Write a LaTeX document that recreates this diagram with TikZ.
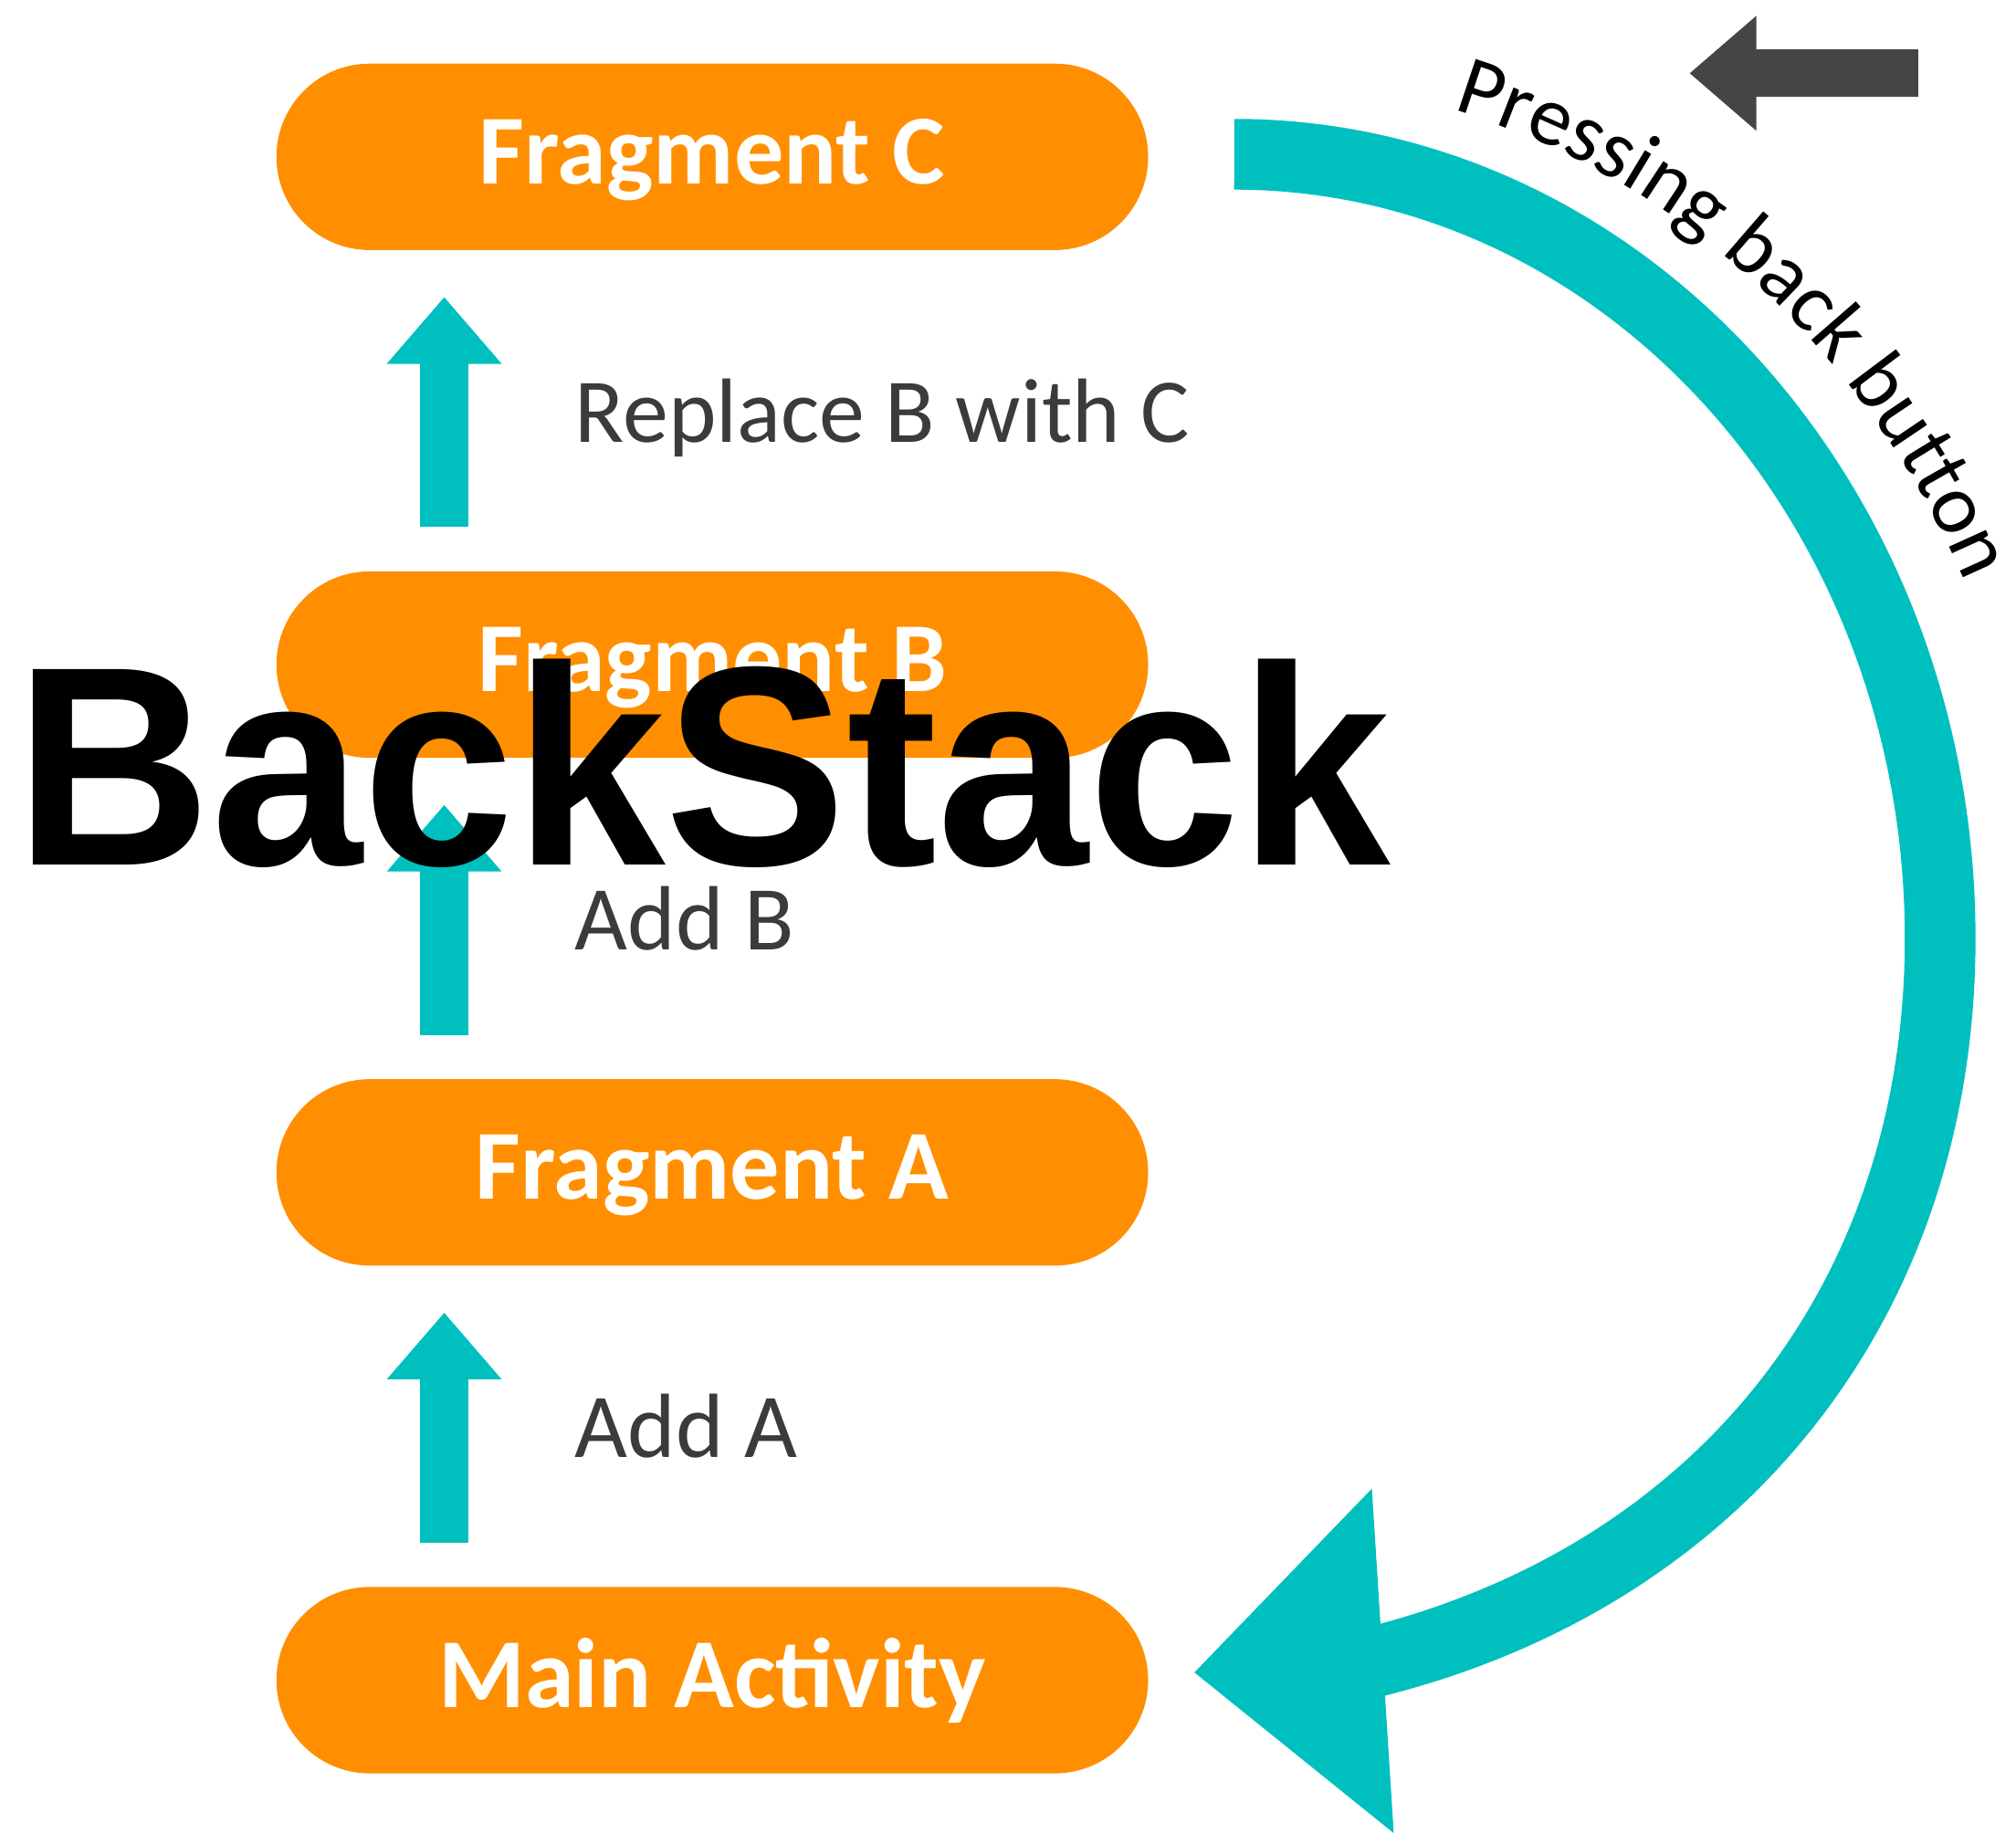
\documentclass[tikz,border=0pt]{standalone}
\usepackage{fontspec}
\usetikzlibrary{shapes.misc,arrows.meta,decorations.text}
\newfontfamily\calibri{Carlito}
\newfontfamily\helv{Liberation Sans}
\definecolor{pillorange}{HTML}{FF8F00}
\definecolor{tealc}{HTML}{00C0BF}
\definecolor{labelgray}{HTML}{3B3B3B}
\definecolor{arrowgray}{HTML}{454545}
\newcommand{\pressfont}{\calibri\fontsize{66}{79}\selectfont}
\begin{document}
\begin{tikzpicture}[x=1pt,y=-1pt,
  pill/.style={rounded rectangle, fill=pillorange, minimum width=678pt,
    minimum height=145pt, inner sep=0pt, text=white,
    font=\calibri\bfseries\fontsize{77}{90}\selectfont,
    text height=50pt, text depth=8pt},
  lbl/.style={anchor=base west, inner sep=0pt, text=labelgray,
    font=\calibri\fontsize{71}{85}\selectfont},
  blockarrow/.style={line width=37pt, -{Triangle[length=52pt,width=86pt]}},
]
\useasboundingbox (0,0) rectangle (1568,1426.6);

% pills
\node[pill] (fc) at (554,122)  {Fragment C};
\node[pill] (fb) at (554,517)  {Fragment B};
\node[pill] (fa) at (554,912)  {Fragment A};
\node[pill] (ma) at (554,1307) {Main Activity};

% small up arrows
\coordinate (aC0) at (345.5,410);  \coordinate (aC1) at (345.5,231);
\coordinate (aB0) at (345.5,805);  \coordinate (aB1) at (345.5,626);
\coordinate (aA0) at (345.5,1200); \coordinate (aA1) at (345.5,1021);
\draw[blockarrow, tealc] (aC0) -- (aC1);
\draw[blockarrow, tealc] (aB0) -- (aB1);
\draw[blockarrow, tealc] (aA0) -- (aA1);

% labels
\node[lbl] (lc) at (447,344)  {Replace B with C};
\node[lbl] (lb) at (447,739)  {Add B};
\node[lbl] (la) at (447,1134) {Add A};

% big curved back arrow
\coordinate (bs) at (960,120);
\coordinate (bm) at (1509,730);
\coordinate (be) at (1068,1293);
\coordinate (h1) at (929,1301);
\coordinate (h2) at (1067,1158);
\coordinate (h3) at (1084,1426);
\draw[tealc, line width=55pt] (bs) .. controls (1263,120) and (1509,393) .. (bm)
  .. controls (1509,1010) and (1340,1225) .. (be);
\fill[tealc] (h1) -- (h2) -- (h3) -- cycle;

% text along the arc
\path[decorate, decoration={text along path,
    text={|\pressfont|Pressing back button}}]
  (1130.1,85.3) arc[start angle=-74.2, end angle=-8, x radius=624, y radius=670];

% gray back arrow
\coordinate (g0) at (1492,57);
\coordinate (g1) at (1314,57);
\draw[blockarrow, arrowgray] (g0) -- (g1);

% title
\node[anchor=base, inner sep=0pt, font=\helv\bfseries\fontsize{221}{260}\selectfont]
  (title) at (547,673) {\scalebox{0.957}[1]{BackStack}};
\end{tikzpicture}
\end{document}
